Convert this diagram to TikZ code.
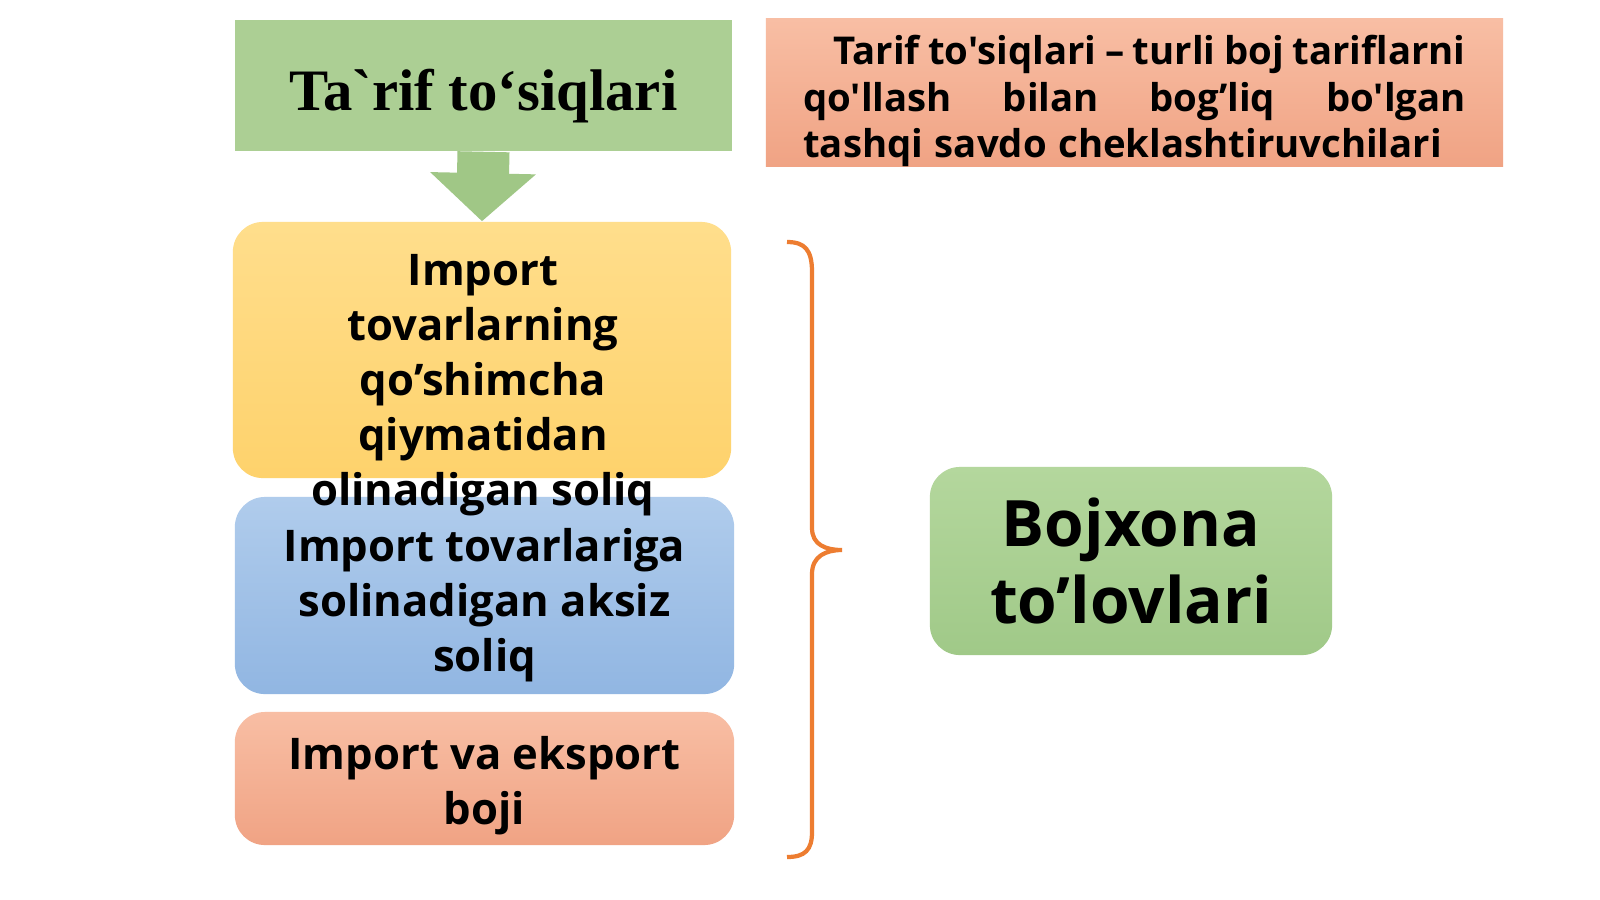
\documentclass[tikz,border=0pt]{standalone}
\usepackage{fontspec}
\setmainfont{Open Sans}[Ligatures=TeXOff]
\newfontfamily\boxfont{Open Sans}[Ligatures=TeXOff]
\newfontfamily\titlefont{Liberation Serif}[Ligatures=TeXOff]
\usetikzlibrary{arrows.meta, positioning}

\definecolor{titlegreen}{RGB}{172,207,148}
\definecolor{arrowgreen}{RGB}{160,199,134}
\definecolor{salmontop}{RGB}{248,190,164}
\definecolor{salmonbot}{RGB}{240,163,132}
\definecolor{yellowtop}{RGB}{255,222,140}
\definecolor{yellowbot}{RGB}{254,210,108}
\definecolor{bluetop}{RGB}{176,204,236}
\definecolor{bluebot}{RGB}{145,182,226}
\definecolor{greentop}{RGB}{180,215,157}
\definecolor{greenbot}{RGB}{160,201,136}
\definecolor{braceorange}{RGB}{237,125,49}

\tikzset{
  taxbox/.style={rounded corners=0.3cm, minimum width=4.98cm, inner sep=0pt},
  taxtext/.style={align=center, inner sep=0pt,
    font=\boxfont\bfseries\fontsize{12.4}{15.65}\selectfont}
}

\begin{document}
\begin{tikzpicture}[x=0.01cm, y=-0.01cm]

  \useasboundingbox[fill=white] (0,0) rectangle (1600,899);

  % top row
  \node (title) [fill=titlegreen, minimum width=4.97cm, minimum height=1.31cm,
    text height=0.6cm, text depth=0.11cm,
    font=\titlefont\bfseries\fontsize{16.7}{20}\selectfont] at (483.5,85.5) {Ta`rif to‘siqlari};
  \node (meaning box) [top color=salmontop, bottom color=salmonbot, minimum width=7.37cm,
    minimum height=1.47cm, inner sep=0pt] at (1134.5,92.5) {};
  \node (meaning) [text width=6.62cm, align=justify, inner sep=0pt,
    font=\boxfont\bfseries\fontsize{10.9}{13.2}\selectfont] at (1134.5,101)
    {\spaceskip=0.3em plus 1em minus 0.1em
     \hspace*{0.3cm}Tarif to'siqlari – turli boj tariflarni\linebreak
     qo'llash bilan bog’liq bo'lgan\linebreak
     tashqi savdo cheklashtiruvchilari};

  % boxes on the left
  \node (vat box) [taxbox, top color=yellowtop, bottom color=yellowbot,
    minimum height=2.56cm] at (482,350) {};
  \node (excise box) [taxbox, top color=bluetop, bottom color=bluebot,
    minimum width=4.99cm, minimum height=1.97cm] at (484.5,595.5) {};
  \node (duty box) [taxbox, top color=salmontop, bottom color=salmonbot,
    minimum width=4.99cm, minimum height=1.33cm] at (484.5,778.5) {};

  \node (vat) [taxtext] at (483,385)
    {Import\\ tovarlarning\\ qo’shimcha\\ qiymatidan\\ olinadigan soliq};
  \node (excise) [taxtext] at (484.5,605)
    {Import tovarlariga\\ solinadigan aksiz\\ soliq};
  \node (duty) [taxtext] at (484.5,785.5)
    {Import va eksport\\ boji};

  % result
  \node (payments) [taxbox, top color=greentop, bottom color=greenbot,
    minimum width=4.02cm, minimum height=1.88cm, align=center,
    font=\boxfont\bfseries\fontsize{18.2}{21.9}\selectfont] at (1131,561)
    {Bojxona\\ to’lovlari};

  \draw [arrowgreen, line width=0.52cm, -{Triangle[width=1.03cm, length=0.48cm]}]
    (title.south) -- (vat box.north);

  \draw [braceorange, line width=1.2pt]
    (787,242) .. controls (805,242) and (812,250) .. (812,272) -- (812,528)
    .. controls (812,545) and (826,550) .. (842,550)
    .. controls (826,550) and (812,556) .. (812,574) -- (812,832)
    .. controls (812,850) and (805,857) .. (787,857);

\end{tikzpicture}
\end{document}
